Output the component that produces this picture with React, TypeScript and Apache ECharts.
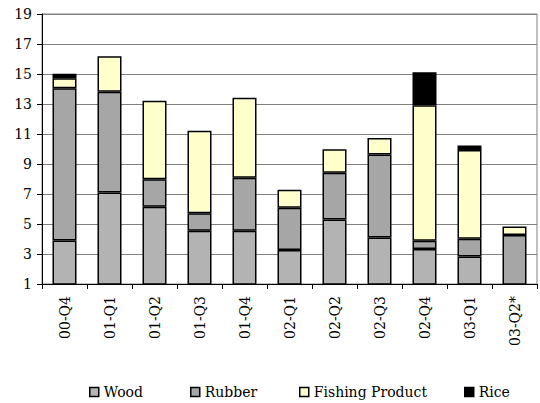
import React, { useEffect, useRef } from "react";
import * as echarts from "echarts";

const categories = ["00-Q4", "01-Q1", "01-Q2", "01-Q3", "01-Q4", "02-Q1", "02-Q2", "02-Q3", "02-Q4", "03-Q1", "03-Q2*"];
const wood = [3.9, 7.1, 6.15, 4.55, 4.55, 3.27, 5.3, 4.1, 3.33, 2.83, null];
const rubber = [10.15, 6.72, 1.83, 1.16, 3.54, 2.82, 3.12, 5.54, 0.55, 1.18, 4.27];
const fishing = [0.67, 2.36, 5.24, 5.51, 5.33, 1.2, 1.56, 1.09, 9.03, 5.92, 0.57];
const rice = [0.3, null, null, null, null, null, null, null, 2.21, 0.31, null];
const yTicks = { min: 1, max: 19, interval: 2 };

const FONT = "DejaVu Serif";

export default function App() {
  const ref = useRef<HTMLDivElement>(null);
  useEffect(() => {
    if (!ref.current) return;
    const chart = echarts.init(ref.current, undefined, { renderer: "svg" });
    const names = ["Wood", "Rubber", "Fishing Product", "Rice"];
    const colors = ["#b3b3b3", "#a6a6a6", "#ffffcc", "#000000"];
    const datas = [wood, rubber, fishing, rice];
    const legendLefts = [84, 185, 294, 459];
    chart.setOption({
      animation: false,
      backgroundColor: "#ffffff",
      textStyle: { fontFamily: FONT },
      grid: {
        left: 42,
        right: 3,
        top: 14,
        bottom: 119,
        show: true,
        borderColor: "#808080",
        borderWidth: 1,
      },
      legend: names.map((n, i) => ({
        data: [n],
        left: legendLefts[i],
        top: 380,
        itemWidth: 9,
        itemHeight: 9,
        icon: "rect",
        itemGap: 0,
        textStyle: { fontFamily: FONT, fontSize: 14, color: "#000" },
        itemStyle: { borderColor: "#000", borderWidth: 1.5 },
      })),
      xAxis: {
        type: "category",
        data: categories,
        axisLine: { show: true, lineStyle: { color: "#000", width: 1 } },
        axisTick: { show: true, length: 5, lineStyle: { color: "#000" } },
        axisLabel: {
          rotate: 90,
          fontFamily: FONT,
          fontSize: 14,
          color: "#000",
          margin: 12,
        },
        splitLine: { show: false },
      },
      yAxis: {
        type: "value",
        min: yTicks.min,
        max: yTicks.max,
        interval: yTicks.interval,
        axisLine: { show: true, lineStyle: { color: "#000", width: 1 } },
        axisTick: { show: true, length: 5, lineStyle: { color: "#000" } },
        axisLabel: { fontFamily: FONT, fontSize: 14, color: "#000", margin: 10 },
        splitLine: { show: true, lineStyle: { color: "#808080", width: 1 } },
      },
      series: names.map((n, i) => ({
        name: n,
        type: "bar",
        stack: "total",
        data: datas[i],
        barWidth: 24,
        itemStyle: { color: colors[i], borderColor: "#000", borderWidth: 1.5 },
      })),
    });
    return () => chart.dispose();
  }, []);
  return <div ref={ref} style={{ width: 540, height: 403, position: "absolute", left: 0, top: 0 }} />;
}
